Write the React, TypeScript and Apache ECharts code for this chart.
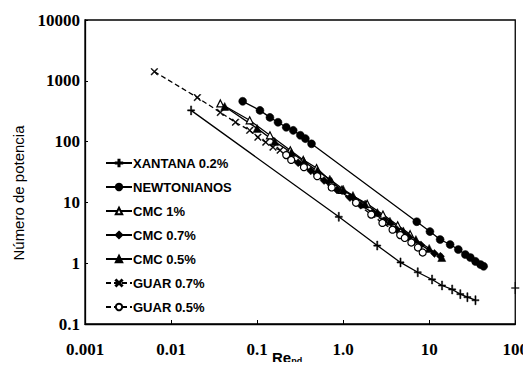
import React, { useEffect, useRef } from "react";
import * as echarts from "echarts";

// Power number vs. Reynolds number for several fluids (log-log)
const xTickLabels = ["0.001", "0.01", "0.1", "1.0", "10", "100"];
const yTickLabels = ["0.1", "1", "10", "100", "1000", "10000"];

const xantanaRe = [0.0171, 0.89, 2.49, 4.64, 7.36, 10.8, 14.1, 18.5, 23, 27.8, 34.5];
const xantanaNp = [326, 5.8, 1.95, 1.03, 0.71, 0.54, 0.43, 0.37, 0.31, 0.276, 0.246];

const newtRe = [0.068, 0.108, 0.141, 0.175, 0.218, 0.263, 0.318, 0.364, 0.429, 7.17, 10.2, 13.4, 17.5, 21.8, 26.3, 30.1, 34.5, 39.5, 42.9];
const newtNp = [460, 326, 250, 208, 172, 153, 127, 112, 92, 4.82, 3.31, 2.45, 2.03, 1.68, 1.39, 1.24, 1.07, 0.95, 0.89];

const cmc1Re = [0.0374, 0.082, 0.141, 0.243, 0.344, 0.491, 0.736, 0.966, 1.9, 2.9, 4.3, 6.0];
const cmc1Np = [424, 224, 127, 72, 50, 36.7, 21.7, 16.1, 9.5, 6.3, 4.2, 3.0];

const cmc07Re = [0.22, 0.3, 0.42, 0.6, 0.85, 1.2, 1.6, 2.2, 3.0, 4.2, 5.8, 8.0, 11.5, 13.5];
const cmc07Np = [62, 45, 33, 23, 16, 12, 9, 6.8, 5.0, 3.6, 2.7, 2.0, 1.45, 1.3];

const cmc05Re = [0.042, 0.1, 0.16, 0.25, 0.35, 0.5, 0.7, 1.0, 1.3, 1.8, 2.5, 3.5, 5, 7, 10, 14];
const cmc05Np = [378, 165, 100, 66, 47, 33, 24, 16.5, 13, 9.4, 6.8, 4.9, 3.4, 2.45, 1.75, 1.24];

const guar07Re = [0.0064, 0.0202, 0.0374, 0.056, 0.082, 0.102, 0.126, 0.153, 0.185];
const guar07Np = [1413, 531, 302, 208, 153, 118, 97.7, 81, 72];

const guar05Re = [0.218, 0.249, 0.35, 0.5, 0.736, 1.41, 2.12, 2.86, 3.75, 4.6, 5.2, 6.2, 7.4, 8.4];
const guar05Np = [60, 50, 38, 27, 17.6, 9.85, 6.3, 4.6, 3.56, 2.9, 2.6, 2.19, 1.81, 1.5];

const strayRe = [100];
const strayNp = [0.39];

const names = [
  "XANTANA 0.2%",
  "NEWTONIANOS",
  "CMC 1%",
  "CMC 0.7%",
  "CMC 0.5%",
  "GUAR 0.7%",
  "GUAR 0.5%",
];

const PLUS = "path://M-0.8,-6H0.8V-0.8H5V0.8H0.8V6H-0.8V0.8H-5V-0.8H-0.8Z";
const CROSS =
  "path://M-5,-4L-4,-5L0,-1L4,-5L5,-4L1,0L5,4L4,5L0,1L-4,5L-5,4L-1,0Z";

function zip(xs: number[], ys: number[]) {
  return xs.map((x, i) => [x, ys[i]]);
}

function lineSeries(
  name: string,
  xs: number[],
  ys: number[],
  symbol: string,
  size: number | number[],
  filled: boolean,
  dashed: boolean
) {
  return {
    name,
    type: "line",
    data: zip(xs, ys),
    symbol,
    symbolSize: size,
    showAllSymbol: true,
    lineStyle: { color: "#000", width: 1.3, type: dashed ? [5, 3] : "solid" },
    itemStyle: filled
      ? { color: "#000", borderColor: "#000", borderWidth: 0.5 }
      : { color: "#fff", borderColor: "#000", borderWidth: 1.2 },
    emphasis: { disabled: true },
    z: 3,
  };
}

export default function App() {
  const ref = useRef<HTMLDivElement>(null);

  useEffect(() => {
    if (!ref.current) return;
    const chart = echarts.init(ref.current, null, { renderer: "svg" });
    const serif = "Liberation Serif";
    const sans = "Liberation Sans";

    chart.setOption({
      animation: false,
      backgroundColor: "#fff",
      grid: {
        left: 85,
        right: 13,
        top: 20,
        bottom: 46,
        show: true,
        borderColor: "#000",
        borderWidth: 1.3,
      },
      xAxis: {
        type: "log",
        logBase: 10,
        min: 0.001,
        max: 100,
        axisLine: { show: true, lineStyle: { color: "#000", width: 1.3 } },
        axisTick: { show: true, inside: true, length: 4, lineStyle: { color: "#000" } },
        minorTick: { show: false },
        splitLine: { show: false },
        axisLabel: {
          margin: 17,
          color: "#000",
          formatter: (v: number) =>
            "{t|" + xTickLabels[Math.round(Math.log10(v)) + 3] + "}",
          rich: {
            t: {
              fontFamily: serif,
              fontWeight: "bold",
              fontSize: 17,
              color: "#000",
            },
          },
        },
      },
      yAxis: {
        type: "log",
        logBase: 10,
        min: 0.1,
        max: 10000,
        axisLine: { show: true, lineStyle: { color: "#000", width: 1.3 } },
        axisTick: { show: true, inside: true, length: 3, lineStyle: { color: "#000" } },
        splitLine: { show: false },
        axisLabel: {
          margin: 5,
          color: "#000",
          formatter: (v: number) =>
            "{t|" + yTickLabels[Math.round(Math.log10(v)) + 1] + "}",
          rich: {
            t: {
              fontFamily: serif,
              fontWeight: "bold",
              fontSize: 17,
              color: "#000",
            },
          },
        },
      },
      legend: {
        data: names,
        orient: "vertical",
        left: 100,
        top: 151,
        itemWidth: 26,
        itemHeight: 8,
        itemGap: 10,
        textStyle: {
          fontFamily: sans,
          fontWeight: "bold",
          fontSize: 13,
          color: "#000",
          lineHeight: 14,
          padding: [0, 0, 0, -4],
        },
      },
      graphic: [
        {
          type: "text",
          x: 18,
          y: 193,
          rotation: Math.PI / 2,
          style: {
            text: "Número de potencia",
            fontFamily: sans,
            fontSize: 15,
            fill: "#000",
            align: "center",
            verticalAlign: "middle",
          },
        },
        {
          type: "text",
          x: 272,
          y: 349,
          style: {
            text: "{a|Re}{b|pd}",
            verticalAlign: "top",
            rich: {
              a: { fontFamily: sans, fontWeight: "bold", fontSize: 15, fill: "#000" },
              b: {
                fontFamily: sans,
                fontWeight: "bold",
                fontSize: 9,
                fill: "#000",
                padding: [7, 0, 0, 0],
              },
            },
          },
        },
      ],
      series: [
        lineSeries(names[0], xantanaRe, xantanaNp, PLUS, [7, 9], true, false),
        lineSeries(names[1], newtRe, newtNp, "circle", 8, true, false),
        lineSeries(names[2], cmc1Re, cmc1Np, "triangle", 7, false, false),
        lineSeries(names[3], cmc07Re, cmc07Np, "diamond", 8, true, false),
        lineSeries(names[4], cmc05Re, cmc05Np, "triangle", 8, true, false),
        lineSeries(names[5], guar07Re, guar07Np, CROSS, 7, true, true),
        lineSeries(names[6], guar05Re, guar05Np, "circle", 7, false, true),
        {
          name: names[0],
          type: "scatter",
          data: zip(strayRe, strayNp),
          symbol: PLUS,
          symbolSize: [8, 12],
          itemStyle: { color: "#000" },
          emphasis: { disabled: true },
          z: 4,
        },
      ],
    });
    return () => chart.dispose();
  }, []);

  return <div ref={ref} style={{ width: 531, height: 370, margin: -8 }} />;
}
